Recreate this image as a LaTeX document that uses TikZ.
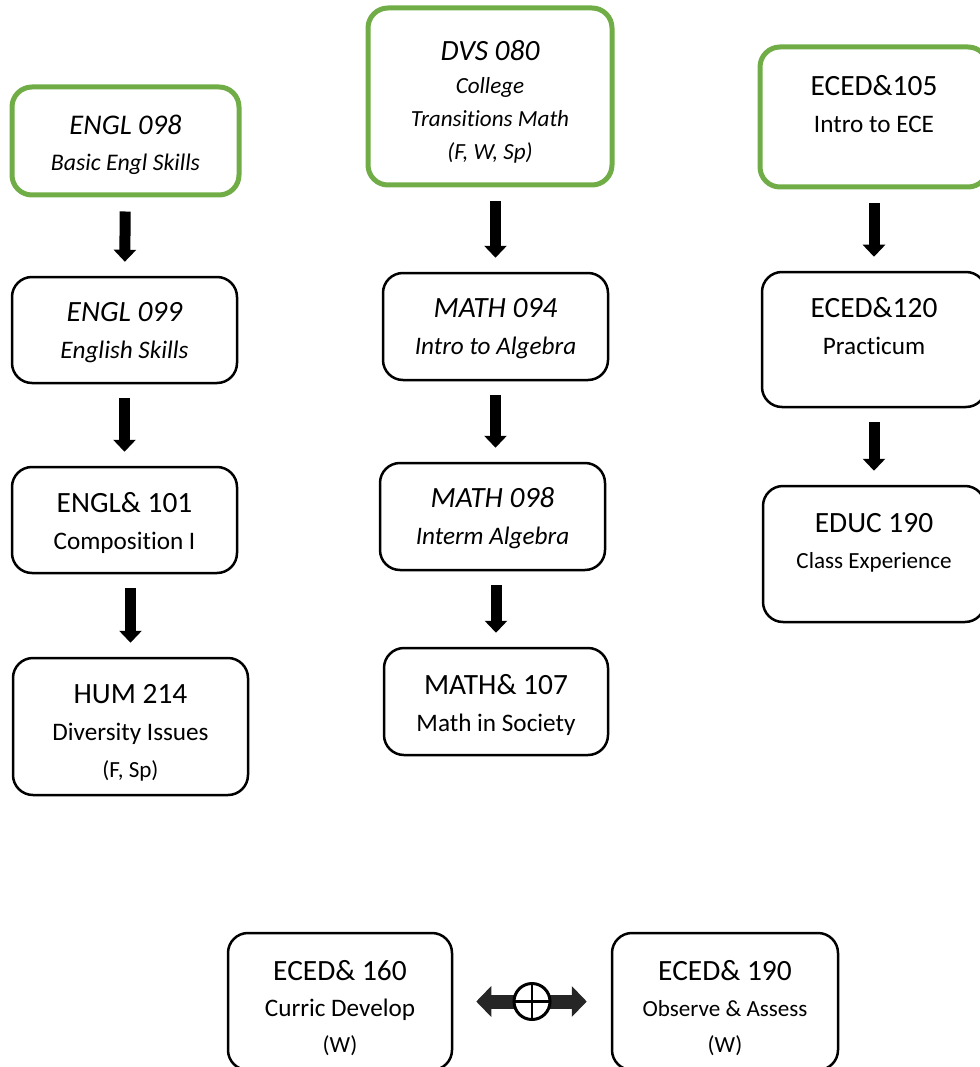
\documentclass[tikz,border=0pt]{standalone}
\usepackage{fontspec}
\setmainfont{Carlito}[Ligatures=NoCommon]
\usetikzlibrary{arrows.meta,calc}
\definecolor{startgreen}{HTML}{70AD47}
\newcommand\sz[2]{{\fontsize{#1}{37pt}\selectfont #2}}
\tikzset{
  course/.style={draw=black,line width=2.5pt,rounded corners=20pt,inner sep=0pt},
  startcourse/.style={course,draw=startgreen,line width=5pt},
  txt/.style={align=center,inner sep=0pt,font=\fontsize{25.2pt}{37pt}\selectfont},
  flow/.style={line width=11pt,-{Triangle[width=22pt,length=12pt]},shorten <=14pt,shorten >=14pt},
  both/.style={line width=14pt,black!85,{Triangle[width=30pt,length=15pt]}-{Triangle[width=30pt,length=15pt]},shorten <=23pt,shorten >=24pt},
  sumnode/.style={circle,draw,line width=3pt,fill=white,minimum size=36pt,inner sep=0pt,
    path picture={\draw[line width=2.5pt] (path picture bounding box.north) -- (path picture bounding box.south)
      (path picture bounding box.west) -- (path picture bounding box.east);}}
}
\begin{document}
\begin{tikzpicture}[x=1pt,y=-1pt]
\useasboundingbox (0,0) rectangle (979,1067);
%Column 1
\node[startcourse,minimum width=227pt,minimum height=108pt] (engl098) at (125.5,141) {};
\node[txt,font=\itshape\fontsize{23.8pt}{36pt}\selectfont,yshift=-4pt] (engl098t) at (engl098) {\sz{28.5pt}{ENGL 098}\\Basic Engl Skills};
\node[course,minimum width=225pt,minimum height=106pt] (engl099) at (124.5,330) {};
\node[txt,font=\itshape\fontsize{25.2pt}{37pt}\selectfont,yshift=-3pt] (engl099t) at (engl099) {\sz{29.4pt}{ENGL 099}\\English Skills};
\node[course,minimum width=225pt,minimum height=106pt] (engl101) at (124.5,520) {};
\node[txt,yshift=-3pt] (engl101t) at (engl101) {\sz{29.4pt}{ENGL\& 101}\\Composition I};
\node[course,minimum width=235pt,minimum height=137pt] (hum214) at (130.5,726.5) {};
\node[txt,yshift=-6pt] (hum214t) at (hum214) {\sz{29.4pt}{HUM 214}\\Diversity Issues\\\sz{23.1pt}{(F, Sp)}};
\draw[flow] (engl098) -- (engl099);
\draw[flow] (engl099) -- (engl101);
\draw[flow] (hum214.north |- engl101.south) -- (hum214.north);
%Column 2
\node[startcourse,minimum width=244pt,minimum height=177pt] (dvs080) at (490,96.5) {};
\node[txt,font=\itshape\fontsize{23.1pt}{33pt}\selectfont,yshift=-5pt] (dvs080t) at (dvs080) {\sz{29.4pt}{DVS 080}\\College\\Transitions Math\\(F, W, Sp)};
\node[course,minimum width=225pt,minimum height=107pt] (math094) at (495.5,326.5) {};
\node[txt,font=\itshape\fontsize{25.2pt}{37pt}\selectfont,yshift=-2pt] (math094t) at (math094) {\sz{29.4pt}{MATH 094}\\Intro to Algebra};
\node[course,minimum width=225pt,minimum height=107pt] (math098) at (492.5,516.5) {};
\node[txt,font=\itshape\fontsize{25.2pt}{37pt}\selectfont,yshift=-2pt] (math098t) at (math098) {\sz{29.4pt}{MATH 098}\\Interm Algebra};
\node[course,minimum width=224pt,minimum height=107pt] (math107) at (496,701.5) {};
\node[txt,yshift=-3pt] (math107t) at (math107) {\sz{29.4pt}{MATH\& 107}\\Math in Society};
\draw[flow] (math094.north |- dvs080.south) -- (math094.north);
\draw[flow] (math094) -- (math098.north -| math094.south);
\draw[flow] (math107.north |- math098.south) -- (math107.north);
%Column 3
\node[startcourse,minimum width=228pt,minimum height=140pt] (eced105) at (874,117) {};
\node[txt,yshift=13pt] (eced105t) at (eced105) {\sz{29.4pt}{ECED\&105}\\Intro to ECE};
\node[course,minimum width=224pt,minimum height=135pt] (eced120) at (874,339.5) {};
\node[txt,yshift=13pt] (eced120t) at (eced120) {\sz{29.4pt}{ECED\&120}\\Practicum};
\node[course,minimum width=222pt,minimum height=136pt] (educ190) at (874,554) {};
\node[txt,font=\fontsize{23.1pt}{36pt}\selectfont,yshift=11pt] (educ190t) at (educ190) {\sz{29.4pt}{EDUC 190}\\Class Experience};
\draw[flow] (eced105) -- (eced120);
\draw[flow] (eced120) -- (educ190);
%Bottom row
\node[course,minimum width=224pt,minimum height=137pt] (eced160) at (340,1001.5) {};
\node[txt,font=\fontsize{25.2pt}{36pt}\selectfont,yshift=-7pt] (eced160t) at (eced160) {\sz{29.4pt}{ECED\& 160}\\Curric Develop\\\sz{23.1pt}{(W)}};
\node[course,minimum width=226pt,minimum height=137pt] (eced190) at (725,1001.5) {};
\node[txt,font=\fontsize{23.1pt}{36pt}\selectfont,yshift=-7pt] (eced190t) at (eced190) {\sz{29.4pt}{ECED\& 190}\\Observe \& Assess\\(W)};
\draw[both] (eced160.east) -- (eced190.west);
\node[sumnode] (plus) at ($(eced160.east)!0.5!(eced190.west)$) {};
\end{tikzpicture}
\end{document}
